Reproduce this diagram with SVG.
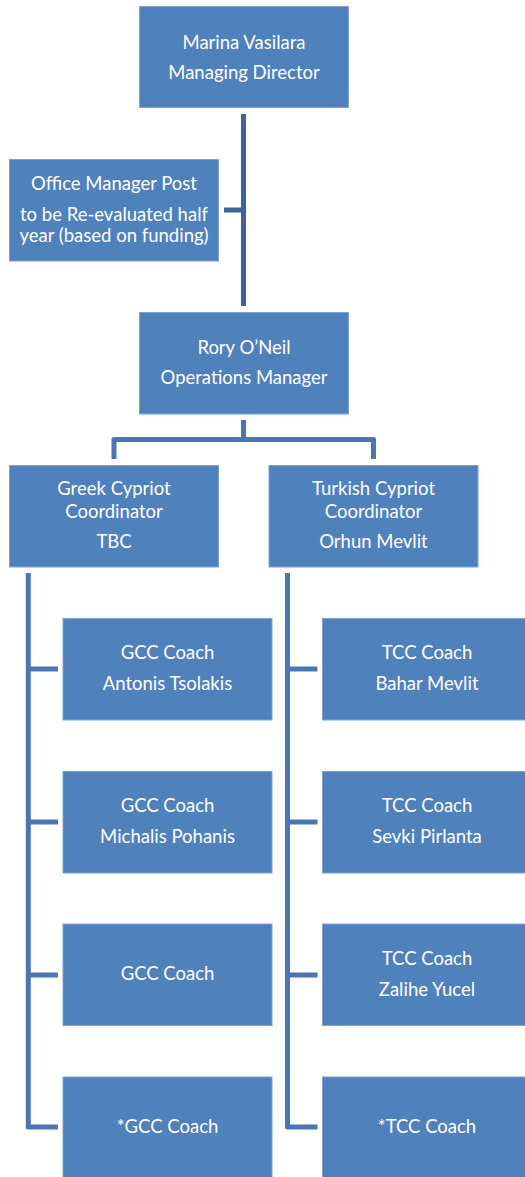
<svg xmlns="http://www.w3.org/2000/svg" width="525" height="1177" viewBox="0 0 525 1177">
<style>
.box{fill:#4F81BD;stroke:#7FA2D3;stroke-width:1}
.t{font-family:Lato,"Liberation Sans",sans-serif;font-size:18.5px;fill:#FFFFFF;text-anchor:middle}
.c{stroke:#4A77B3;stroke-width:5;fill:none;stroke-linejoin:round}
.cd{stroke:#3E6499;stroke-width:5;fill:none}
</style>
<rect width="525" height="1177" fill="#FFFFFF"/>
<g id="connectors">
<line class="cd" x1="243.5" y1="114" x2="243.5" y2="306"/>
<line class="cd" x1="224" y1="210" x2="243.5" y2="210"/>
<polyline class="c" points="243.5,420 243.5,439.5"/>
<polyline class="c" points="114,459 114,439.5 373.5,439.5 373.5,459"/>
<polyline class="c" points="28.3,573 28.3,1127 58,1127"/>
<line class="c" x1="28.3" y1="669" x2="58" y2="669"/>
<line class="c" x1="28.3" y1="822" x2="58" y2="822"/>
<line class="c" x1="28.3" y1="975" x2="58" y2="975"/>
<polyline class="c" points="287.5,573 287.5,1127 317.5,1127"/>
<line class="c" x1="287.5" y1="669" x2="317.5" y2="669"/>
<line class="c" x1="287.5" y1="822" x2="317.5" y2="822"/>
<line class="c" x1="287.5" y1="975" x2="317.5" y2="975"/>
</g>
<g id="md">
<rect class="box" x="139.5" y="6.5" width="209" height="101"/>
<text class="t" x="244" y="48.5">Marina Vasilara</text>
<text class="t" x="244" y="78.5">Managing Director</text>
</g>
<g id="office">
<rect class="box" x="9.5" y="159.5" width="209" height="101.5"/>
<text class="t" x="114" y="190">Office Manager Post</text>
<text class="t" x="114" y="220.5">to be Re-evaluated half</text>
<text class="t" x="114" y="242.3">year (based on funding)</text>
</g>
<g id="ops">
<rect class="box" x="139.5" y="312.5" width="209" height="101.5"/>
<text class="t" x="244" y="354.3">Rory O’Neil</text>
<text class="t" x="244" y="384.3">Operations Manager</text>
</g>
<g id="gcc-coord">
<rect class="box" x="9.5" y="465.5" width="209" height="101.5"/>
<text class="t" x="114" y="495">Greek Cypriot</text>
<text class="t" x="114" y="518.3">Coordinator</text>
<text class="t" x="114" y="548.3">TBC</text>
</g>
<g id="tcc-coord">
<rect class="box" x="269" y="465.5" width="209" height="101.5"/>
<text class="t" x="373.5" y="495">Turkish Cypriot</text>
<text class="t" x="373.5" y="518.3">Coordinator</text>
<text class="t" x="373.5" y="548.3">Orhun Mevlit</text>
</g>
<g id="gcc1">
<rect class="box" x="63" y="618.5" width="209" height="101.5"/>
<text class="t" x="167.5" y="659.3">GCC Coach</text>
<text class="t" x="167.5" y="690">Antonis Tsolakis</text>
</g>
<g id="gcc2">
<rect class="box" x="63" y="771.5" width="209" height="101.5"/>
<text class="t" x="167.5" y="812.3">GCC Coach</text>
<text class="t" x="167.5" y="843.3">Michalis Pohanis</text>
</g>
<g id="gcc3">
<rect class="box" x="63" y="924" width="209" height="101.5"/>
<text class="t" x="167.5" y="980">GCC Coach</text>
</g>
<g id="gcc4">
<rect class="box" x="63" y="1077" width="209" height="101.5"/>
<text class="t" x="167.5" y="1133.3">*GCC Coach</text>
</g>
<g id="tcc1">
<rect class="box" x="322.5" y="618.5" width="209" height="101.5"/>
<text class="t" x="427" y="659.3">TCC Coach</text>
<text class="t" x="427" y="690">Bahar Mevlit</text>
</g>
<g id="tcc2">
<rect class="box" x="322.5" y="771.5" width="209" height="101.5"/>
<text class="t" x="427" y="812.3">TCC Coach</text>
<text class="t" x="427" y="843.3">Sevki Pirlanta</text>
</g>
<g id="tcc3">
<rect class="box" x="322.5" y="924" width="209" height="101.5"/>
<text class="t" x="427" y="965">TCC Coach</text>
<text class="t" x="427" y="996">Zalihe Yucel</text>
</g>
<g id="tcc4">
<rect class="box" x="322.5" y="1077" width="209" height="101.5"/>
<text class="t" x="427" y="1133.3">*TCC Coach</text>
</g>
</svg>
